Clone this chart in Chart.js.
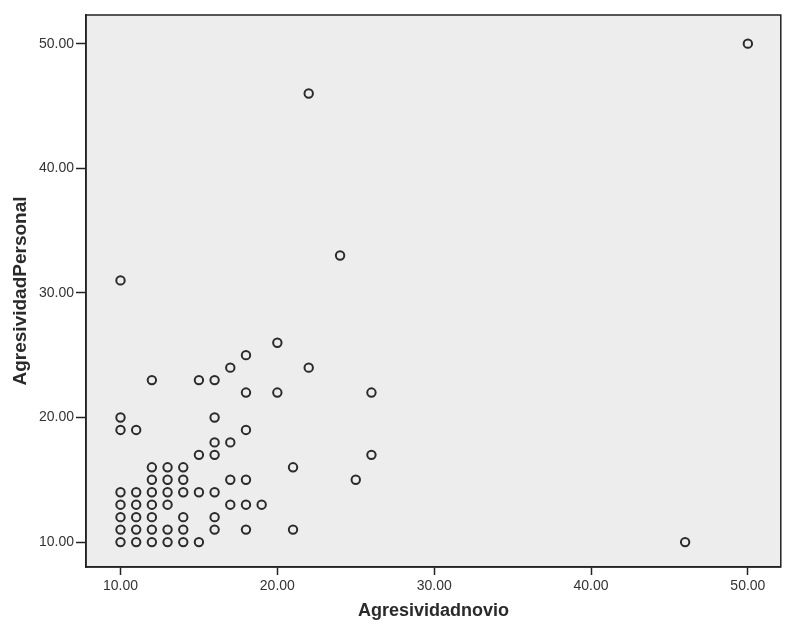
<!DOCTYPE html>
<html>
<head>
<meta charset="utf-8">
<title>Agresividadnovio vs AgresividadPersonal</title>
<script src="https://cdn.jsdelivr.net/npm/chart.js@4.4.1/dist/chart.umd.min.js"></script>
<style>
  html, body { margin: 0; padding: 0; background: #ffffff; }
  #chart-box { width: 787px; height: 634px; }
</style>
</head>
<body>
<div id="chart-box">
  <canvas id="scatter-chart" width="787" height="634"></canvas>
</div>
<script>
// one entry per case (x = Agresividadnovio, y = AgresividadPersonal)
const agresividadNovio = [
  10, 11, 12, 13, 14, 15, 46,
  10, 11, 12, 13, 14, 16, 18, 21,
  10, 11, 12, 14, 16,
  10, 11, 12, 13, 17, 18, 19,
  10, 11, 12, 13, 14, 15, 16,
  12, 13, 14, 17, 18, 25,
  12, 13, 14, 21,
  15, 16, 26,
  16, 17,
  10, 11, 18,
  10, 16,
  18, 20, 26,
  12, 15, 16,
  17, 22,
  18,
  20,
  10,
  24,
  22,
  50
];
const agresividadPersonal = [
  10, 10, 10, 10, 10, 10, 10,
  11, 11, 11, 11, 11, 11, 11, 11,
  12, 12, 12, 12, 12,
  13, 13, 13, 13, 13, 13, 13,
  14, 14, 14, 14, 14, 14, 14,
  15, 15, 15, 15, 15, 15,
  16, 16, 16, 16,
  17, 17, 17,
  18, 18,
  19, 19, 19,
  20, 20,
  22, 22, 22,
  23, 23, 23,
  24, 24,
  25,
  26,
  31,
  33,
  46,
  50
];
const xTickValues = [10, 20, 30, 40, 50];
const yTickValues = [10, 20, 30, 40, 50];
const xTitle = "Agresividadnovio";
const yTitle = "AgresividadPersonal";

const canvas = document.getElementById("scatter-chart");

const points = agresividadNovio.map((x, i) => ({ x: x, y: agresividadPersonal[i] }));

// gray plot panel + full frame, like the SPSS output
const panelPlugin = {
  id: "panel",
  beforeDraw(chart) {
    const { ctx, chartArea } = chart;
    ctx.save();
    ctx.fillStyle = "#ededed";
    ctx.fillRect(chartArea.left, chartArea.top, chartArea.width, chartArea.height);
    ctx.restore();
  },
  afterDraw(chart) {
    const { ctx, chartArea } = chart;
    ctx.save();
    ctx.strokeStyle = "#222222";
    ctx.lineWidth = 1.5;
    ctx.strokeRect(chartArea.left, chartArea.top, chartArea.width, chartArea.height);
    ctx.restore();
  }
};

function fixedTicks(values) {
  return function (scale) {
    scale.ticks = values.map(v => ({ value: v }));
  };
}

const tickFont = { family: "'Liberation Sans', Arial, sans-serif", size: 14 };
const titleFont = { family: "'Liberation Sans', Arial, sans-serif", weight: "bold" };

new Chart(canvas, {
  type: "scatter",
  data: {
    datasets: [
      {
        label: yTitle,
        data: points,
        pointStyle: "circle",
        pointRadius: 4.2,
        pointBorderWidth: 2,
        pointBorderColor: "#2b2b2b",
        pointBackgroundColor: "rgba(0,0,0,0)"
      }
    ]
  },
  options: {
    responsive: false,
    animation: false,
    layout: { padding: { top: 15, right: 3, left: 0, bottom: 0 } },
    plugins: {
      legend: { display: false },
      tooltip: { enabled: false }
    },
    scales: {
      x: {
        type: "linear",
        min: 7.8,
        max: 52.1,
        afterBuildTicks: fixedTicks(xTickValues),
        afterFit(scale) { scale.height = 67; },
        grid: {
          drawOnChartArea: false,
          drawTicks: true,
          tickLength: 8,
          tickColor: "#222222",
          tickWidth: 1.5
        },
        border: { display: true, color: "#222222", width: 1.5 },
        ticks: {
          color: "#333333",
          font: tickFont,
          padding: 3,
          maxRotation: 0,
          callback: v => v.toFixed(2)
        },
        title: {
          display: true,
          text: xTitle,
          color: "#2a2a2a",
          font: Object.assign({ size: 18 }, titleFont),
          padding: { top: 0, bottom: 12 }
        }
      },
      y: {
        type: "linear",
        min: 8,
        max: 52.3,
        afterBuildTicks: fixedTicks(yTickValues),
        afterFit(scale) { scale.width = 86; },
        grid: {
          drawOnChartArea: false,
          drawTicks: true,
          tickLength: 10,
          tickColor: "#222222",
          tickWidth: 1.5
        },
        border: { display: true, color: "#222222", width: 1.5 },
        ticks: {
          color: "#333333",
          font: tickFont,
          padding: 2,
          callback: v => v.toFixed(2)
        },
        title: {
          display: true,
          text: yTitle,
          color: "#2a2a2a",
          font: Object.assign({ size: 19 }, titleFont),
          padding: { top: 9, bottom: 0 }
        }
      }
    }
  },
  plugins: [panelPlugin]
});
</script>
</body>
</html>
